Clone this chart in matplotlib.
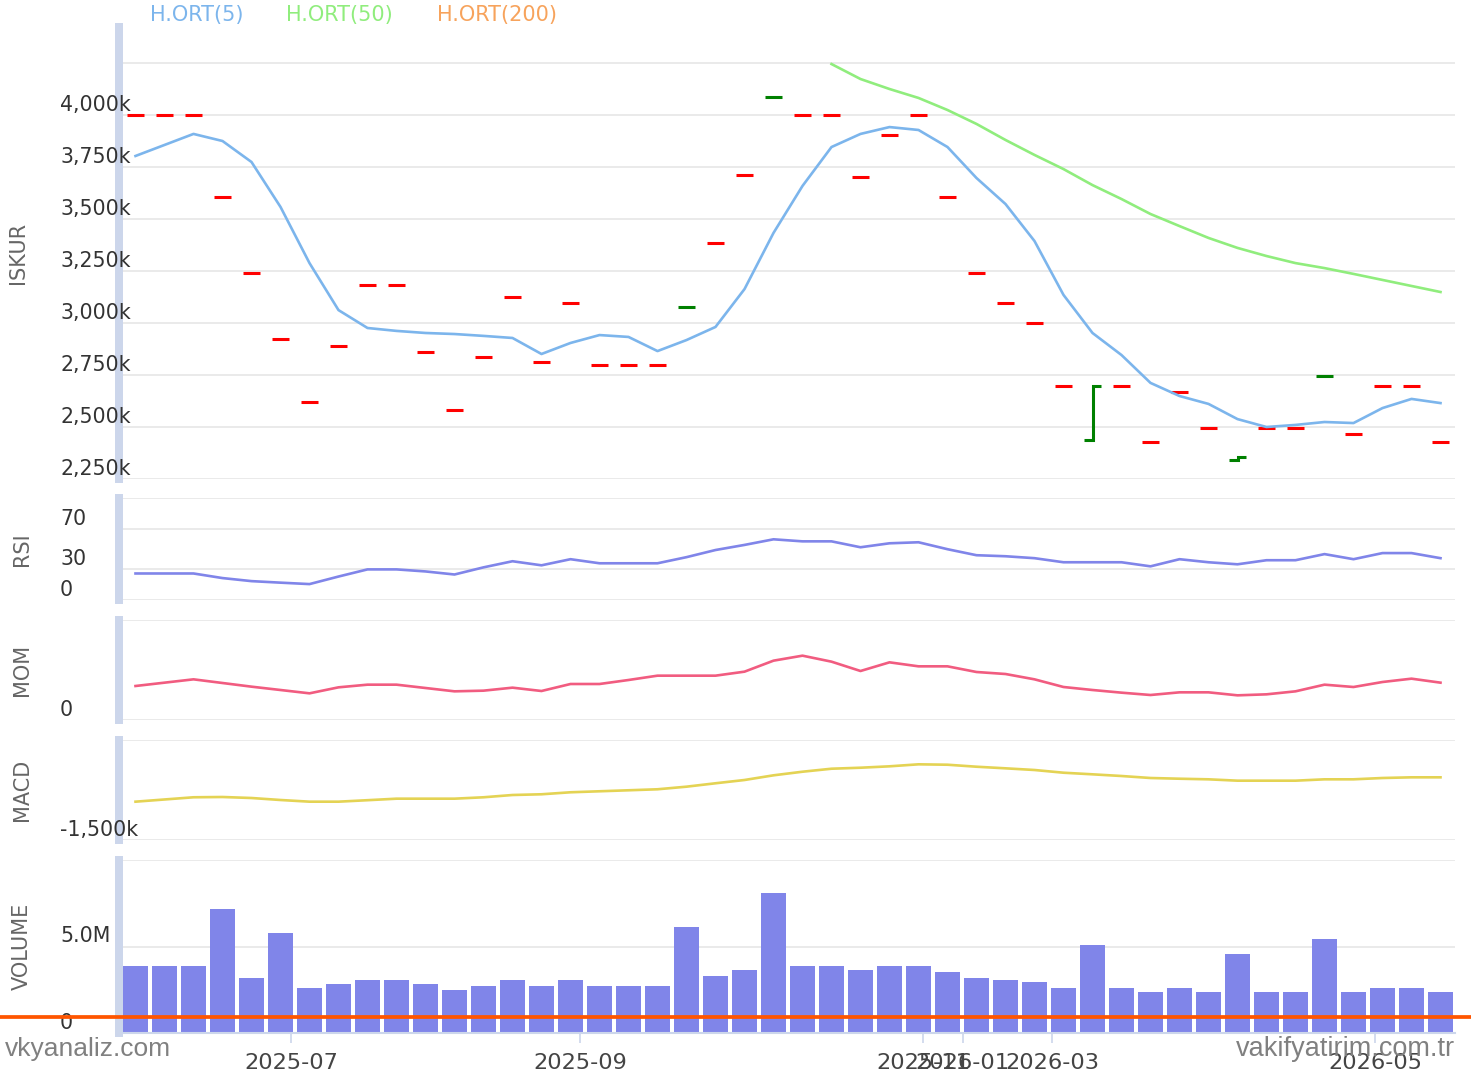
import numpy as np
import matplotlib
matplotlib.use("Agg")
import matplotlib.pyplot as plt
from matplotlib.lines import Line2D
from matplotlib.transforms import blended_transform_factory

# ---- data ----
date_ticks = [5.36, 15.33, 27.16, 28.53, 31.60, 42.74]
date_labels = ["2025-07", "2025-09", "2025-11", "2026-01", "2026-03", "2026-05"]

# price bars, in thousands
close = [4000, 4000, 4000, 3606, 3240, 2923, 2620, 2889, 3183, 3183,
         2861, 2582, 2837, 3125, 2813, 3096, 2798, 2798, 2798, 3077,
         3385, 3712, 4087, 4000, 4000, 3702, 3904, 4000, 3606, 3240,
         3096, 3000, 2697, 2697, 2697, 2428, 2668, 2495, 2356, 2495,
         2495, 2745, 2466, 2697, 2697, 2428]
open_ = [4000, 4000, 4000, 3606, 3240, 2923, 2620, 2889, 3183, 3183,
         2861, 2582, 2837, 3125, 2813, 3096, 2798, 2798, 2798, 3077,
         3385, 3712, 4087, 4000, 4000, 3702, 3904, 4000, 3606, 3240,
         3096, 3000, 2697, 2438, 2697, 2428, 2668, 2495, 2341, 2495,
         2495, 2745, 2466, 2697, 2697, 2428]
up_bars = [19, 22, 33, 38, 41]

ma5 = [3803, 3856, 3909, 3875, 3774, 3558, 3288, 3062, 2976, 2962,
       2952, 2947, 2938, 2928, 2851, 2904, 2942, 2933, 2865, 2918,
       2981, 3163, 3433, 3659, 3846, 3909, 3942, 3928, 3846, 3697,
       3572, 3394, 3135, 2952, 2846, 2712, 2649, 2611, 2538, 2500,
       2510, 2524, 2519, 2591, 2635, 2615]
ma50_start = 24
ma50 = [4245, 4173, 4125, 4082, 4024, 3957, 3880, 3808, 3740, 3663, 3596,
        3524, 3466, 3409, 3361, 3322, 3288, 3264, 3236, 3207, 3178, 3149]
ma200 = []

rsi = [26, 26, 26, 21.5, 18.5, 17, 15.6, 23, 30, 30,
       28, 25, 32, 38, 34, 40, 36, 36, 36, 42,
       49, 54, 59.5, 57.5, 57.5, 51.7, 55.6, 56.6, 49.8, 43.9,
       42.9, 41, 37, 37, 37, 33, 40, 37, 35, 39,
       39, 45, 40, 46, 46, 41]

mom = [102, 112, 122, 111, 100, 90, 80, 98, 106, 106,
       96, 86, 88, 97, 87, 108, 108, 120, 133, 133,
       133, 145, 178, 193, 175, 147, 173, 161, 161, 144,
       138, 122, 99, 90, 82, 75, 83, 83, 74, 77,
       86, 106, 99, 114, 124, 112]

# MACD, in thousands
macd = [-542, -487, -432, -425, -450, -500, -542, -542, -505, -467,
        -467, -467, -432, -375, -357, -307, -282, -257, -232, -167,
        -82, 0, 117, 207, 282, 307, 342, 392, 382, 332,
        292, 250, 182, 142, 100, 50, 32, 17, -17, -17,
        -17, 17, 17, 50, 67, 67]

# volume, in millions
volume = [3.90, 3.90, 3.90, 7.15, 3.20, 5.76, 2.62, 2.85, 3.08, 3.08,
          2.85, 2.50, 2.73, 3.08, 2.73, 3.08, 2.73, 2.73, 2.73, 6.10,
          3.31, 3.66, 8.08, 3.90, 3.90, 3.66, 3.90, 3.90, 3.55, 3.20,
          3.08, 2.97, 2.62, 5.06, 2.62, 2.38, 2.62, 2.38, 4.59, 2.38,
          2.38, 5.41, 2.38, 2.62, 2.62, 2.38]

W, H = 1471, 1071
GRID = "#e6e6e6"
AXIS = "#ccd6eb"
TICK = "#333333"
TITLE = "#666666"
XLIM = ((123 - 135.5) / 29, (1455 - 135.5) / 29)

fig = plt.figure(figsize=(W / 100, H / 100), dpi=100)


def panel(top, bottom, ylim, grid, labels, title, title_x=22):
    """
    Builds one stacked panel with Highcharts-like styling.
    """
    ax = fig.add_axes([123 / W, 1 - bottom / H, (1455 - 123) / W, (bottom - top) / H])
    ax.set_xlim(*XLIM)
    ax.set_ylim(*ylim)
    for s in ["top", "right", "bottom"]:
        ax.spines[s].set_visible(False)
    ax.spines["left"].set_color(AXIS)
    ax.spines["left"].set_linewidth(5.76)
    ax.spines["left"].set_position(("outward", 2.88))
    ax.set_yticks(grid)
    ax.set_yticklabels([])
    ax.tick_params(left=False, bottom=False, labelbottom=False)
    ax.grid(axis="y", color=GRID, linewidth=1.2)
    ax.set_axisbelow(True)
    tr = blended_transform_factory(fig.transFigure, ax.transData)
    for v, lab in labels:
        ax.text(60 / W, v, lab, transform=tr, ha="left", va="bottom",
                fontsize=14.8, color=TICK, clip_on=False)
    fig.text(title_x / W, 1 - (top + bottom) / 2 / H, title, rotation=90,
             ha="center", va="center", fontsize=15, color=TITLE)
    return ax


x = np.arange(len(close))

# price panel
price_grid = list(range(2250, 4251, 250))
ax = panel(27, 479, (2250, 2250 + (479 - 27) / 52 * 250), price_grid,
           [(v, f"{v:,}k") for v in price_grid[:-1]], "ISKUR", title_x=18)
hw = 0.28
for i in x:
    c = "#008000" if i in up_bars else "#ff0000"
    if open_[i] == close[i]:
        ax.plot([i - hw, i + hw], [close[i]] * 2, color=c, lw=2.2,
                solid_capstyle="butt")
    else:
        # open tick, high-low stem, close tick
        ax.plot([i - hw, i, i, i + hw], [open_[i], open_[i], close[i], close[i]],
                color=c, lw=2.2, solid_capstyle="butt", solid_joinstyle="miter")
ax.plot(x, ma5, color="#7cb5ec", lw=1.9)
ax.plot(np.arange(ma50_start, ma50_start + len(ma50)), ma50, color="#90ed7d", lw=1.9)
if ma200:
    ax.plot(x[-len(ma200):], ma200, color="#f7a35c", lw=1.9)

# legend
for lx, lab, col in [(150, "H.ORT(5)", "#7cb5ec"), (286, "H.ORT(50)", "#90ed7d"),
                     (437, "H.ORT(200)", "#f7a35c")]:
    fig.text(lx / W, 1 - 15 / H, lab, ha="left", va="center", fontsize=15, color=col)

# RSI
ax = panel(498, 600, (0, 100), [0, 30, 70, 100],
           [(0, "0"), (30, "30"), (70, "70")], "RSI")
ax.plot(x, rsi, color="#8085e9", lw=1.9)

# MOM
ax = panel(620, 720, (0, 300), [0, 300], [(0, "0")], "MOM")
ax.plot(x, mom, color="#f15c80", lw=1.9)

# MACD
ax = panel(740, 840, (-1500, 1000), [-1500, 1000], [(-1500, "-1,500k")], "MACD")
ax.plot(x, macd, color="#e4d354", lw=1.9)

# volume
ax = panel(860, 1033, (0, 10), [0, 5, 10], [(0, "0"), (5, "5.0M")], "VOLUME")
ax.bar(x, volume, width=0.86, color="#8085e9")
ax.spines["bottom"].set_visible(True)
ax.spines["bottom"].set_color(AXIS)
ax.spines["bottom"].set_linewidth(1.5)
ax.set_xticks(date_ticks)
ax.set_xticklabels(date_labels)
ax.tick_params(axis="x", bottom=True, labelbottom=True, length=7.2, width=1.2,
               color=AXIS, labelcolor="#444444", labelsize=16.2, pad=7)

# marker line and watermarks
fig.add_artist(Line2D([0, 1], [1 - 1017 / H] * 2, transform=fig.transFigure,
                      color="#ff5500", lw=2.7, zorder=5))
fig.text(5 / W, 1 - 1056 / H, "vkyanaliz.com", ha="left", va="baseline",
         fontsize=19, family="Liberation Sans", color="#808080")
fig.text(1455 / W, 1 - 1056 / H, "vakifyatirim.com.tr", ha="right", va="baseline",
         fontsize=19.5, family="Liberation Sans", color="#808080", zorder=6)

fig.savefig("out.png", dpi=100)
